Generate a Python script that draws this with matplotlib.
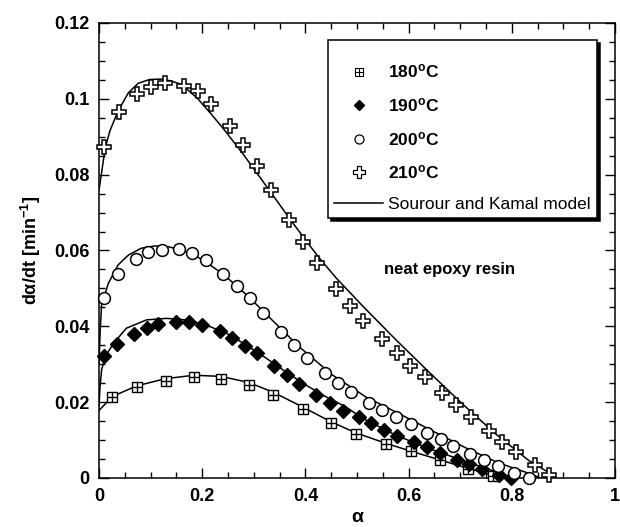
import matplotlib
matplotlib.use('Agg')
import matplotlib.pyplot as plt
from matplotlib.lines import Line2D
from matplotlib.legend_handler import HandlerTuple
from matplotlib.ticker import MultipleLocator, FuncFormatter

plt.rcParams['font.family'] = 'Liberation Sans'
plt.rcParams['mathtext.fontset'] = 'custom'
plt.rcParams['mathtext.rm'] = 'Liberation Sans'
plt.rcParams['mathtext.bf'] = 'Liberation Sans:bold'
plt.rcParams['mathtext.it'] = 'Liberation Sans:italic'

# ---measured points---
a180 = [0.026, 0.073, 0.129, 0.184, 0.236, 0.290, 0.338, 0.395, 0.450, 0.498,
        0.557, 0.604, 0.660, 0.716, 0.763]
r180 = [0.0214, 0.0239, 0.0257, 0.0266, 0.0262, 0.0245, 0.0219, 0.0182, 0.0144, 0.0116,
        0.0089, 0.0071, 0.0047, 0.0025, 0.0006]

a190 = [0.009, 0.035, 0.068, 0.093, 0.115, 0.150, 0.175, 0.199, 0.234, 0.257,
        0.282, 0.307, 0.340, 0.364, 0.388, 0.421, 0.447, 0.472, 0.504, 0.528,
        0.553, 0.578, 0.611, 0.635, 0.660, 0.694, 0.718, 0.743, 0.775, 0.799]
r190 = [0.0322, 0.0353, 0.0380, 0.0396, 0.0406, 0.0411, 0.0411, 0.0404, 0.0389, 0.0370,
        0.0349, 0.0329, 0.0296, 0.0272, 0.0247, 0.0219, 0.0199, 0.0177, 0.0160, 0.0144,
        0.0127, 0.0111, 0.0096, 0.0081, 0.0067, 0.0047, 0.0036, 0.0023, 0.0008, 0.0]

a200 = [0.009, 0.036, 0.071, 0.095, 0.122, 0.156, 0.181, 0.207, 0.240, 0.268,
        0.293, 0.318, 0.352, 0.378, 0.403, 0.438, 0.463, 0.489, 0.523, 0.549,
        0.575, 0.604, 0.636, 0.662, 0.686, 0.719, 0.747, 0.773, 0.805, 0.834]
r200 = [0.0476, 0.0538, 0.0578, 0.0595, 0.0601, 0.0603, 0.0593, 0.0575, 0.0538, 0.0506,
        0.0474, 0.0436, 0.0386, 0.0351, 0.0317, 0.0276, 0.0251, 0.0228, 0.0199, 0.0179,
        0.0162, 0.0142, 0.0120, 0.0102, 0.0084, 0.0063, 0.0047, 0.0032, 0.0014, 0.0]

a210 = [0.010, 0.039, 0.074, 0.101, 0.128, 0.165, 0.191, 0.218, 0.253, 0.279,
        0.307, 0.334, 0.369, 0.396, 0.423, 0.460, 0.486, 0.512, 0.548, 0.577,
        0.602, 0.631, 0.665, 0.691, 0.720, 0.756, 0.781, 0.809, 0.845, 0.872]
r210 = [0.0874, 0.0966, 0.1013, 0.1030, 0.1043, 0.1035, 0.1021, 0.0986, 0.0928, 0.0878,
        0.0823, 0.0759, 0.0680, 0.0623, 0.0568, 0.0498, 0.0454, 0.0415, 0.0366, 0.0329,
        0.0296, 0.0266, 0.0223, 0.0193, 0.0162, 0.0124, 0.0096, 0.0069, 0.0034, 0.0008]

# ---Sourour and Kamal model curves---
m180_a = [0.0, 0.026, 0.073, 0.129, 0.184, 0.236, 0.290, 0.338, 0.395, 0.450,
          0.498, 0.557, 0.604, 0.660, 0.716, 0.763, 0.775]
m180_r = [0.0178, 0.0215, 0.0243, 0.0262, 0.0271, 0.0268, 0.0252, 0.0226, 0.0187, 0.0148,
          0.0119, 0.0091, 0.0071, 0.0048, 0.0025, 0.0007, 0.0]

m190_a = [0.0, 0.002, 0.005, 0.012, 0.028, 0.053, 0.092, 0.131, 0.169, 0.208,
          0.247, 0.285, 0.324, 0.362, 0.401, 0.440, 0.478, 0.510, 0.575, 0.639,
          0.703, 0.768, 0.793]
m190_r = [0.0190, 0.0240, 0.0285, 0.0320, 0.0355, 0.0395, 0.0417, 0.0421, 0.0417, 0.0403,
          0.0382, 0.0351, 0.0316, 0.0280, 0.0245, 0.0214, 0.0188, 0.0158, 0.0113, 0.0078,
          0.0047, 0.0017, 0.0003]

m200_a = [0.0, 0.002, 0.005, 0.018, 0.037, 0.057, 0.082, 0.108, 0.134, 0.160,
          0.185, 0.211, 0.243, 0.290, 0.324, 0.388, 0.452, 0.517, 0.581, 0.645,
          0.710, 0.774, 0.838, 0.855]
m200_r = [0.0300, 0.0380, 0.0456, 0.0513, 0.0562, 0.0588, 0.0606, 0.0612, 0.0610, 0.0601,
          0.0588, 0.0566, 0.0535, 0.0478, 0.0432, 0.0346, 0.0272, 0.0214, 0.0170, 0.0125,
          0.0080, 0.0040, 0.0010, 0.0]

m210_a = [0.0, 0.012, 0.021, 0.037, 0.057, 0.076, 0.098, 0.121, 0.140, 0.160,
          0.191, 0.218, 0.243, 0.280, 0.330, 0.369, 0.400, 0.427, 0.460, 0.510,
          0.575, 0.639, 0.703, 0.768, 0.832, 0.884]
m210_r = [0.0759, 0.0870, 0.0915, 0.0968, 0.1016, 0.1041, 0.1051, 0.1052, 0.1047, 0.1038,
          0.1001, 0.0959, 0.0918, 0.0853, 0.0759, 0.0685, 0.0628, 0.0580, 0.0527, 0.0455,
          0.0365, 0.0280, 0.0197, 0.0117, 0.0047, 0.0004]

fig = plt.figure(figsize=(6.2, 5.27), dpi=100)
ax = fig.add_axes([99/620, 1 - 478/527, 516/620, 455/527])

lw = 1.1
for xa, ya in [(m180_a, m180_r), (m190_a, m190_r), (m200_a, m200_r), (m210_a, m210_r)]:
    ax.plot(xa, ya, color='black', linewidth=lw, zorder=2)

ax.plot(a180, r180, ls='none', marker='s', ms=7.5, mfc='white', mec='black', mew=1.0, zorder=3, clip_on=False)
ax.plot(a180, r180, ls='none', marker='+', ms=7.5, mec='black', mew=1.0, zorder=4, clip_on=False)
ax.plot(a190, r190, ls='none', marker='D', ms=7, mfc='black', mec='black', zorder=3, clip_on=False)
ax.plot(a200, r200, ls='none', marker='o', ms=8.5, mfc='white', mec='black', mew=1.1, zorder=3, clip_on=False)
ax.plot(a210, r210, ls='none', marker='P', ms=9.5, mfc='white', mec='black', mew=1.1, zorder=3, clip_on=False)

ax.set_xlim(0, 1)
ax.set_ylim(0, 0.12)
ax.xaxis.set_major_locator(MultipleLocator(0.2))
ax.xaxis.set_minor_locator(MultipleLocator(0.05))
ax.yaxis.set_major_locator(MultipleLocator(0.02))
ax.yaxis.set_minor_locator(MultipleLocator(0.005))
fmt = FuncFormatter(lambda v, p: '{:g}'.format(round(v, 3)))
ax.xaxis.set_major_formatter(fmt)
ax.yaxis.set_major_formatter(fmt)
ax.tick_params(which='both', direction='in', top=True, right=True, width=1.0)
ax.tick_params(which='major', length=7, pad=7, labelsize=13)
ax.tick_params(which='minor', length=4)
for lab in ax.get_xticklabels() + ax.get_yticklabels():
    lab.set_fontweight('bold')
for sp in ax.spines.values():
    sp.set_linewidth(1.1)

ax.set_xlabel('α', fontsize=14, fontweight='bold', labelpad=3)
ax.set_ylabel(r'dα/dt [min$^{\mathbf{-1}}$]', fontsize=13, fontweight='bold', labelpad=8)

ax.text(0.68, 0.0549, 'neat epoxy resin', fontsize=12, fontweight='bold', ha='center', va='center')

# ---legend---
h180 = (Line2D([], [], ls='none', marker='s', ms=5.5, mfc='white', mec='black', mew=0.8),
        Line2D([], [], ls='none', marker='+', ms=5.5, mec='black', mew=0.8))
h190 = Line2D([], [], ls='none', marker='D', ms=5.5, mfc='black', mec='black')
h200 = Line2D([], [], ls='none', marker='o', ms=6.5, mfc='white', mec='black', mew=0.9)
h210 = Line2D([], [], ls='none', marker='P', ms=8, mfc='white', mec='black', mew=0.9)
hmod = Line2D([], [], color='black', linewidth=lw)
labels = [r'180$^{\mathbf{o}}$C', r'190$^{\mathbf{o}}$C', r'200$^{\mathbf{o}}$C',
          r'210$^{\mathbf{o}}$C', 'Sourour and Kamal model']
leg = ax.legend([h180, h190, h200, h210, hmod], labels,
                handler_map={tuple: HandlerTuple(ndivide=1)},
                loc='upper right', bbox_to_anchor=((597 - 99) / 516, (478 - 40) / 455),
                borderaxespad=0, fontsize=12.5, frameon=True, fancybox=False,
                edgecolor='black', shadow={'color': 'black', 'alpha': 1.0},
                title=' ', title_fontsize=1,
                handlelength=2.8, handletextpad=0.3, borderpad=0.35, labelspacing=0.9)
leg.get_frame().set_linewidth(1.1)
for i, t in enumerate(leg.get_texts()):
    if i < 4:
        t.set_fontweight('bold')

fig.savefig('out.png', dpi=100)
